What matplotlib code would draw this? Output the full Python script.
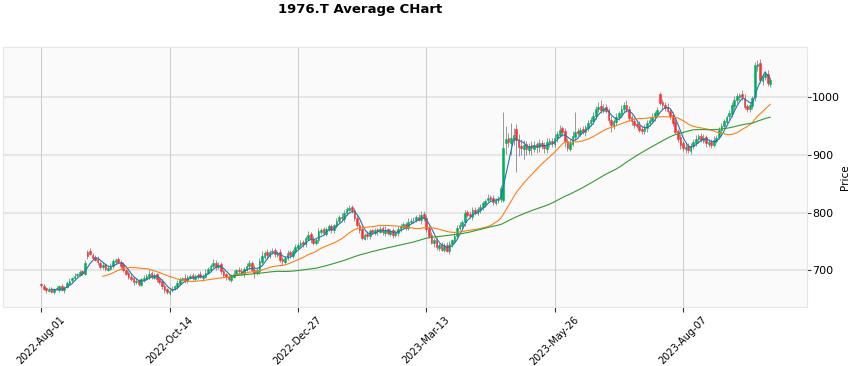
import matplotlib
matplotlib.use("Agg")
import matplotlib.pyplot as plt
import numpy as np
import pandas as pd

title = "1976.T Average CHart"
tick_labels = ["2022-Aug-01", "2022-Oct-14", "2022-Dec-27", "2023-Mar-13", "2023-May-26", "2023-Aug-07"]
mav_periods = [5, 25, 75]

closes = [
    674, 668, 665, 667, 663, 668, 667, 672, 666, 670,
    678, 682, 687, 690, 693, 697, 696, 712, 724, 728,
    722, 718, 714, 706, 710, 702, 704, 708, 716, 718,
    714, 708, 700, 694, 688, 684, 680, 682, 676, 684,
    686, 690, 694, 688, 692, 684, 680, 672, 666, 662,
    664, 668, 672, 678, 684, 686, 682, 688, 690, 686,
    690, 692, 688, 690, 696, 702, 708, 712, 706, 710,
    698, 692, 688, 684, 690, 694, 700, 698, 694, 702,
    708, 712, 700, 696, 700, 716, 724, 730, 726, 732,
    734, 728, 730, 718, 716, 722, 730, 726, 734, 740,
    744, 748, 746, 756, 762, 754, 748, 752, 768, 770,
    764, 772, 776, 770, 778, 786, 792, 790, 800, 806,
    808, 804, 790, 778, 770, 756, 762, 760, 768, 766,
    770, 768, 772, 766, 770, 764, 768, 762, 766, 772,
    776, 780, 774, 784, 786, 788, 792, 788, 796, 790,
    772, 760, 748, 752, 740, 744, 736, 742, 734, 746,
    752, 760, 774, 778, 784, 800, 796, 794, 804, 800,
    806, 810, 816, 820, 826, 824, 818, 822, 824, 842,
    912, 928, 922, 930, 935, 926, 914, 912, 918, 910,
    916, 912, 918, 914, 920, 916, 912, 922, 924, 920,
    930, 936, 944, 940, 924, 912, 920, 932, 940, 938,
    944, 940, 948, 956, 960, 968, 980, 984, 978, 982,
    976, 960, 952, 958, 966, 972, 980, 986, 978, 964,
    958, 952, 950, 944, 942, 948, 956, 960, 966, 972,
    978, 990, 986, 982, 976, 968, 956, 940, 928, 918,
    912, 914, 908, 916, 922, 928, 932, 926, 930, 920,
    922, 918, 926, 930, 944, 950, 958, 966, 972, 986,
    996, 1002, 1004, 1000, 984, 980, 986, 998, 1056, 1058,
    1030, 1036, 1040, 1024, 1030,
]

opens = [
    676, 673, 669, 664, 668, 662, 669, 666, 673, 665,
    671, 677, 683, 686, 691, 692, 699, 694, 731, 734,
    727, 723, 719, 713, 705, 711, 701, 703, 707, 715,
    719, 715, 709, 701, 695, 689, 686, 679, 683, 675,
    683, 685, 689, 695, 687, 693, 685, 681, 673, 667,
    661, 665, 667, 671, 677, 683, 687, 681, 687, 691,
    685, 689, 693, 687, 689, 695, 701, 707, 713, 705,
    711, 699, 693, 689, 683, 689, 693, 701, 699, 693,
    701, 707, 713, 701, 695, 699, 715, 723, 731, 725,
    731, 735, 727, 731, 719, 715, 721, 731, 725, 733,
    739, 743, 749, 745, 755, 763, 755, 747, 753, 767,
    771, 763, 771, 777, 769, 777, 785, 793, 789, 799,
    805, 809, 805, 791, 779, 771, 755, 763, 759, 769,
    765, 771, 767, 773, 765, 771, 763, 769, 761, 765,
    771, 775, 781, 773, 783, 787, 787, 793, 787, 797,
    791, 773, 761, 747, 753, 739, 745, 735, 743, 733,
    745, 751, 759, 773, 777, 783, 801, 797, 793, 805,
    799, 805, 809, 815, 821, 827, 825, 817, 821, 823,
    822, 920, 930, 920, 928, 945, 926, 916, 911, 919,
    909, 917, 911, 919, 913, 921, 917, 911, 921, 925,
    919, 929, 935, 946, 941, 925, 911, 919, 931, 941,
    937, 945, 939, 947, 955, 959, 967, 979, 985, 977,
    983, 978, 961, 951, 957, 965, 971, 979, 987, 979,
    965, 959, 953, 951, 945, 941, 947, 955, 959, 965,
    971, 1006, 991, 987, 983, 977, 969, 957, 941, 931,
    921, 911, 915, 907, 915, 921, 927, 933, 925, 931,
    919, 923, 917, 925, 931, 943, 951, 957, 967, 971,
    985, 995, 1001, 1005, 999, 985, 979, 985, 1000, 1054,
    1060, 1029, 1035, 1041, 1023,
]

upper_wicks = [
    2, 3, 2, 4, 3, 2, 3, 2, 4, 3,
    3, 4, 2, 5, 3, 4, 2, 6, 5, 4,
    3, 4, 5, 3, 4, 2, 3, 5, 4, 3,
    4, 3, 5, 2, 3, 4, 3, 4, 2, 3,
    5, 4, 6, 3, 4, 2, 3, 4, 3, 2,
    3, 4, 3, 5, 4, 3, 6, 4, 3, 5,
    4, 3, 5, 4, 6, 4, 3, 8, 5, 4,
    3, 4, 3, 5, 4, 6, 3, 4, 5, 3,
    4, 6, 3, 8, 4, 5, 10, 4, 6, 3,
    5, 4, 3, 6, 4, 3, 5, 4, 3, 6,
    4, 5, 3, 4, 6, 3, 5, 4, 5, 3,
    4, 3, 5, 4, 3, 5, 4, 6, 4, 3,
    5, 4, 3, 5, 4, 6, 3, 5, 4, 3,
    4, 3, 5, 4, 6, 3, 4, 5, 3, 4,
    5, 4, 3, 6, 4, 5, 3, 4, 6, 5,
    4, 3, 6, 4, 5, 3, 4, 5, 6, 4,
    3, 5, 4, 6, 3, 5, 4, 6, 5, 4,
    3, 5, 4, 3, 6, 4, 5, 3, 4, 6,
    63, 22, 8, 25, 12, 8, 10, 12, 8, 6,
    5, 8, 6, 4, 7, 5, 6, 8, 5, 4,
    6, 5, 8, 4, 6, 5, 7, 10, 35, 6,
    5, 6, 4, 5, 6, 7, 5, 8, 10, 6,
    5, 4, 6, 5, 7, 4, 6, 5, 8, 6,
    5, 6, 4, 7, 5, 6, 4, 5, 6, 4,
    5, 4, 6, 5, 7, 4, 6, 5, 4, 6,
    4, 5, 6, 4, 5, 7, 4, 5, 6, 4,
    5, 4, 6, 5, 4, 6, 5, 4, 6, 5,
    6, 5, 4, 7, 6, 4, 5, 4, 5, 6,
    6, 5, 5, 6, 4,
]

lower_wicks = [
    3, 2, 4, 2, 3, 4, 2, 3, 2, 4,
    2, 3, 4, 2, 3, 2, 4, 3, 4, 2,
    3, 2, 4, 3, 2, 4, 3, 2, 3, 4,
    2, 4, 3, 2, 4, 3, 5, 2, 4, 3,
    3, 2, 4, 3, 2, 5, 3, 4, 6, 3,
    4, 3, 2, 4, 3, 2, 4, 3, 2, 3,
    3, 4, 2, 5, 3, 2, 4, 3, 5, 2,
    4, 3, 5, 2, 4, 3, 2, 4, 3, 5,
    3, 4, 2, 10, 3, 5, 4, 3, 6, 4,
    3, 5, 4, 3, 6, 4, 3, 5, 4, 3,
    4, 3, 5, 4, 3, 6, 4, 3, 5, 4,
    3, 4, 3, 5, 4, 3, 4, 3, 5, 4,
    3, 5, 4, 3, 6, 4, 3, 5, 4, 3,
    4, 6, 3, 4, 5, 3, 4, 6, 3, 5,
    4, 3, 5, 4, 3, 5, 4, 3, 6, 4,
    5, 4, 3, 6, 4, 5, 3, 4, 3, 5,
    4, 3, 5, 4, 3, 6, 4, 3, 5, 4,
    3, 5, 4, 6, 3, 4, 5, 3, 4, 5,
    4, 18, 8, 20, 10, 55, 15, 12, 18, 10,
    8, 12, 6, 10, 8, 6, 9, 7, 8, 6,
    5, 6, 4, 8, 10, 6, 5, 4, 5, 6,
    5, 4, 6, 5, 4, 6, 4, 5, 6, 5,
    4, 5, 12, 6, 5, 4, 6, 5, 4, 5,
    6, 5, 4, 5, 6, 4, 8, 5, 4, 6,
    5, 4, 6, 5, 4, 6, 5, 4, 6, 8,
    6, 8, 5, 6, 4, 5, 6, 4, 5, 6,
    5, 6, 4, 5, 4, 6, 5, 4, 5, 6,
    6, 5, 6, 4, 5, 6, 4, 5, 6, 8,
    6, 8, 5, 4, 6,
]

n = len(closes)
assert len(opens) == n and len(upper_wicks) == n and len(lower_wicks) == n

o = np.array(opens, dtype=float)
c = np.array(closes, dtype=float)
top = np.maximum(o, c)
bot = np.minimum(o, c)
highs = top + np.array(upper_wicks)
lows = bot - np.array(lower_wicks)
x = np.arange(n)

up_color = "#00b060"
down_color = "#fe3032"
colors = [up_color if cc >= oo else down_color for oo, cc in zip(o, c)]

fig = plt.figure(figsize=(8.59, 3.66), dpi=100)
ax = fig.add_axes([0.0031, 0.1604, 0.9360, 0.7120])
ax.set_facecolor("#fafafa")

# grid
for yv in [700, 800, 900, 1000]:
    ax.axhline(yv, color="#e2e2e2", lw=1.2, zorder=0)
tick_pos = [i * 50 for i in range(len(tick_labels))]
for xv in tick_pos:
    ax.axvline(xv, color="#cfcfcf", lw=0.8, zorder=0)

ax.vlines(x, lows, highs, color="#707070", lw=0.5, zorder=1)
heights = np.maximum(top - bot, 0.6)
ax.bar(x, heights, bottom=bot, width=0.65, color=colors, edgecolor=colors, lw=0.4, zorder=2)

s = pd.Series(c)
mav_colors = ["#1f77b4", "#ff7f0e", "#2ca02c"]
for p, col in zip(mav_periods, mav_colors):
    ax.plot(x, s.rolling(p).mean().values, color=col, lw=0.8, zorder=3)

ax.set_xlim(-15.0, 298.2)
ax.set_ylim(635.8, 1087.7)
ax.set_xticks(tick_pos)
ax.set_xticklabels(tick_labels, rotation=45, ha="center", fontsize=7)
ax.set_yticks([700, 800, 900, 1000])
ax.yaxis.tick_right()
ax.yaxis.set_label_position("right")
ax.tick_params(axis="y", labelsize=8, length=3, pad=1, color="#333333")
ax.tick_params(axis="x", length=3.5, pad=2, color="#333333")
ax.set_ylabel("Price", fontsize=7.5, labelpad=0)
for sp in ax.spines.values():
    sp.set_color("#e6e6e6")
    sp.set_linewidth(0.8)

fig.text(0.419, 0.975, title, ha="center", va="center", fontsize=9.5, fontweight="bold")

fig.savefig("out.png", dpi=100)
